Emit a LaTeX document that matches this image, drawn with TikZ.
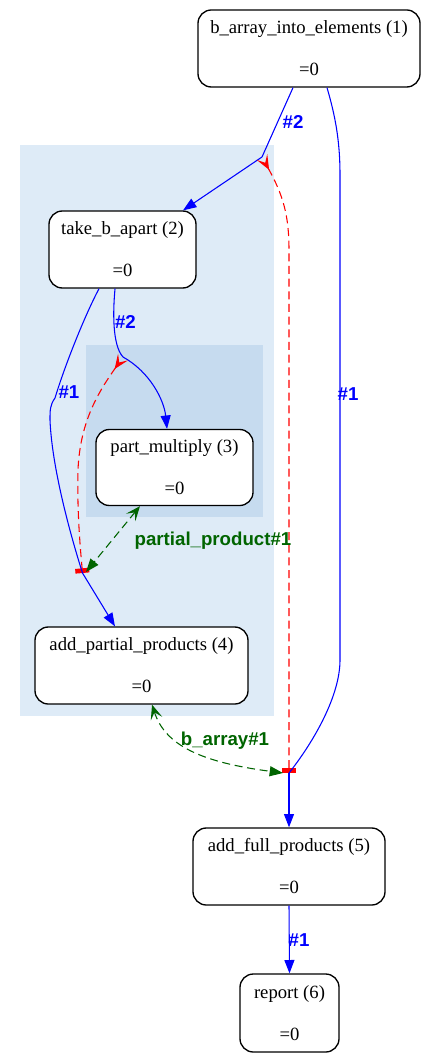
\documentclass[tikz,border=0pt]{standalone}
\usepackage{fontspec}
\setmainfont{Liberation Serif}
\newfontfamily\lblfont{Liberation Sans}
\usetikzlibrary{arrows.meta,calc}
\definecolor{clA}{HTML}{DEEBF7}
\definecolor{clB}{HTML}{C6DBEF}
\definecolor{gdark}{HTML}{006400}
\tikzset{
  proc/.style={draw=black, line width=1pt, fill=white, rounded corners=10pt, inner sep=0pt,
    align=center, font=\fontsize{14pt}{15.75pt}\selectfont},
  bedge/.style={draw=blue, line width=0.8pt, -{Triangle[length=10pt,width=7.5pt]}},
  bline/.style={draw=blue, line width=0.8pt},
  redge/.style={draw=red, line width=0.8pt, dash pattern=on 6pt off 3.5pt,
    {Stealth[reversed,length=11pt,width=9pt,inset=5pt]}-{Rectangle[length=3.5pt,width=10.5pt]}},
  gedge/.style={draw=gdark, line width=0.8pt, dash pattern=on 6pt off 3.5pt,
    {Stealth[length=11pt,width=9pt,inset=5pt]}-{Triangle[length=10pt,width=7.5pt]}},
  blbl/.style={font=\lblfont\bfseries\fontsize{14pt}{16pt}\selectfont, text=blue, inner sep=0pt},
  glbl/.style={font=\lblfont\bfseries\fontsize{14pt}{16pt}\selectfont, text=gdark, inner sep=0pt},
}
\begin{document}
\begin{tikzpicture}[x=0.75pt,y=-0.75pt]
\path[use as bounding box] (0,0) rectangle (434,1062);
% clusters
\fill[clA] (20,145) rectangle (274,716);
\fill[clB] (86,345) rectangle (263,517);
% nodes
\node[proc, minimum width=166.5pt, minimum height=57.75pt] (n1) at (309,48.5) {b\_array\_into\_elements (1)\\[15.75pt]=0};
\node[proc, minimum width=110.25pt, minimum height=57.75pt] (n2) at (122.5,249.5) {take\_b\_apart (2)\\[15.75pt]=0};
\node[proc, minimum width=117.75pt, minimum height=57pt] (n3) at (174.5,467.5) {part\_multiply (3)\\[15.75pt]=0};
\node[proc, minimum width=159.75pt, minimum height=57.75pt] (n4) at (141.5,665.5) {add\_partial\_products (4)\\[15.75pt]=0};
\node[proc, minimum width=144pt, minimum height=57.75pt] (n5) at (289,866.5) {add\_full\_products (5)\\[15.75pt]=0};
\node[proc, minimum width=74.25pt, minimum height=58.5pt] (n6) at (289.5,1013) {report (6)\\[15.75pt]=0};
% junctions
\coordinate (J1) at (262,157);
\coordinate (J2) at (123,357);
\coordinate (J3) at (82.5,573);
\coordinate (J4) at (289,773);
% top-level edges
\draw[bline] ([xshift=-12pt]n1.south) -- (J1);
\draw[bedge] (J1) -- ([xshift=45.4pt]n2.north);
\draw[redge] (J1) .. controls (283,195) and (289,215) .. (289,250) -- (J4);
\draw[bline] ([xshift=13.5pt]n1.south) .. controls (335,115) and (340,140) .. (340,175)
   -- (340,660) .. controls (340,695) and (315,740) .. (J4);
\draw[bedge] (J4) -- (n5.north);
\draw[bedge] (n5.south) -- (n6.north);
\draw[gedge] ([xshift=7.9pt]n4.south) .. controls (165,745) and (200,762) .. ([xshift=-4.5pt]J4);
% inner edges
\draw[bline] ([xshift=-5.6pt]n2.south) .. controls (113,310) and (112,345) .. (J2);
\draw[bedge] (J2) .. controls (150,372) and (164,400) .. ([xshift=-5.6pt]n3.north);
\draw[redge] (J2) .. controls (100,390) and (80,420) .. (78,470) .. controls (77,510) and (80,545) .. (J3);
\draw[bline] ([xshift=-17.6pt]n2.south) .. controls (85,315) and (65,365) .. (55,398)
   .. controls (50,405) and (50,410) .. (50,420) .. controls (52,470) and (72,540) .. (J3);
\draw[bedge] (J3) -- ([xshift=-19.9pt]n4.north);
\draw[gedge] ([xshift=-25.9pt]n3.south) -- ([xshift=2.6pt,yshift=0.75pt]J3);
% labels
\node[blbl] (l1) at (293,122) {\#2};
\node[blbl] (l2) at (348,394) {\#1};
\node[blbl] (l3) at (125.5,322) {\#2};
\node[blbl] (l4) at (69,392) {\#1};
\node[glbl] (l5) at (213,541) {partial\_product\#1};
\node[glbl] (l6) at (225,741) {b\_array\#1};
\node[blbl] (l7) at (299,940) {\#1};
\end{tikzpicture}
\end{document}
